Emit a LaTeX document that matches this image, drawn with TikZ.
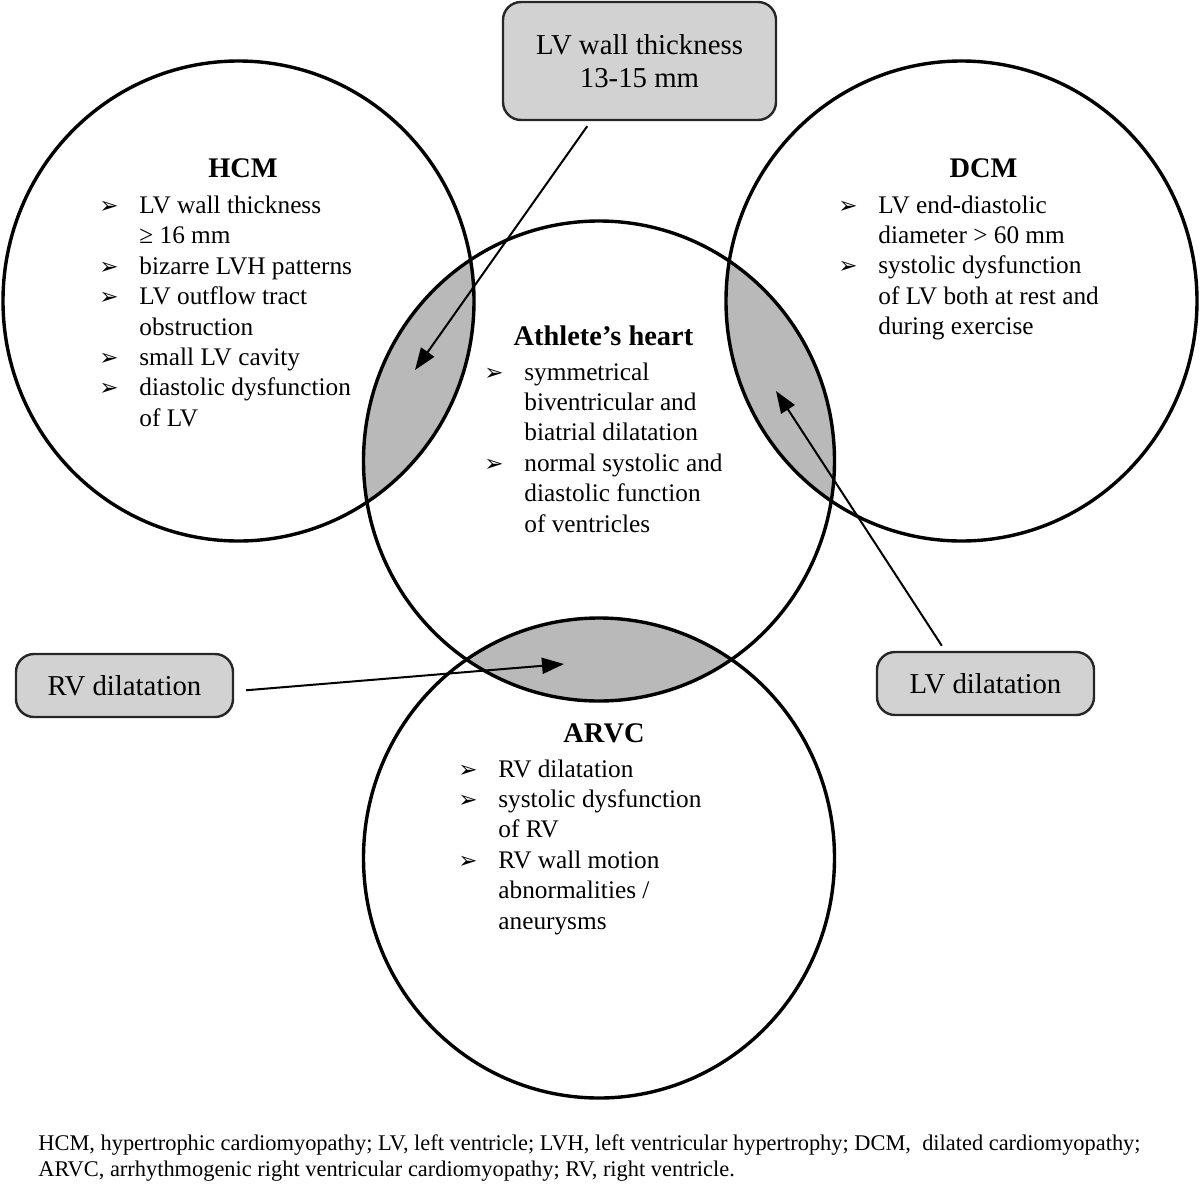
\documentclass[tikz,border=0pt]{standalone}
\usepackage{fontspec}
\setmainfont{Liberation Serif}
\newfontfamily\dingfont{DejaVu Sans}
\usetikzlibrary{arrows.meta,shapes.geometric}

\newcommand{\itm}{\makebox[20pt][l]{\dingfont\fontsize{11.5}{12}\selectfont ➢}}

\begin{document}
\begin{tikzpicture}[
  x=0.5pt, y=-0.5pt,
  oval/.style={x radius=117.75pt, y radius=120pt},
  ring/.style={draw, line width=1.7pt, ellipse, minimum width=235.5pt, minimum height=240pt, inner sep=0pt},
  lens/.style={fill=gray!55},
  tagbox/.style={draw=black!85, line width=1.2pt, fill=gray!35, rounded corners=9pt, align=center,
    inner sep=0pt, font=\fontsize{14.4}{16.5}\selectfont},
  heading/.style={anchor=base, font=\fontsize{14.2}{17}\selectfont\bfseries},
  facts/.style={anchor=base west, inner sep=0pt, font=\fontsize{12.65}{15.2}\selectfont},
  legend/.style={anchor=base west, inner sep=0pt, font=\fontsize{11.2}{13}\selectfont},
  pointer/.style={line width=1pt, -{Triangle[length=11pt,width=8pt]}}
]
  \useasboundingbox (0,0) rectangle (1200,1184);

  \coordinate (hcmC) at (238.5,301);
  \coordinate (dcmC) at (961.5,301);
  \coordinate (athC) at (599,461);
  \coordinate (arvcC) at (599,858);

  % shared areas
  \begin{scope}
    \clip (athC) ellipse [oval];
    \fill[lens] (hcmC) ellipse [oval];
    \fill[lens] (dcmC) ellipse [oval];
    \fill[lens] (arvcC) ellipse [oval];
  \end{scope}

  \node[ring] (hcm) at (hcmC) {};
  \node[ring] (dcm) at (dcmC) {};
  \node[ring] (ath) at (athC) {};
  \node[ring] (arvc) at (arvcC) {};

  \node[heading] (hcmT) at (243,177) {HCM};
  \node[facts] (hcmL) at (99,213.5) {\begin{tabular}[t]{@{}l@{}l@{}}
    \itm & LV wall thickness\\
         & ≥ 16 mm\\
    \itm & bizarre LVH patterns\\
    \itm & LV outflow tract\\
         & obstruction\\
    \itm & small LV cavity\\
    \itm & diastolic dysfunction\\
         & of LV
  \end{tabular}};

  \node[heading] (dcmT) at (983.5,177) {DCM};
  \node[facts] (dcmL) at (838,213) {\begin{tabular}[t]{@{}l@{}l@{}}
    \itm & LV end-diastolic\\
         & diameter > 60 mm\\
    \itm & systolic dysfunction\\
         & of LV both at rest and\\
         & during exercise
  \end{tabular}};

  \node[heading] (athT) at (603.5,345) {Athlete’s heart};
  \node[facts] (athL) at (484,380) {\begin{tabular}[t]{@{}l@{}l@{}}
    \itm & symmetrical\\
         & biventricular and\\
         & biatrial dilatation\\
    \itm & normal systolic and\\
         & diastolic function\\
         & of ventricles
  \end{tabular}};

  \node[heading] (arvcT) at (604,742) {ARVC};
  \node[facts] (arvcL) at (458,777) {\begin{tabular}[t]{@{}l@{}l@{}}
    \itm & RV dilatation\\
    \itm & systolic dysfunction\\
         & of RV\\
    \itm & RV wall motion\\
         & abnormalities /\\
         & aneurysms
  \end{tabular}};

  \node[tagbox, minimum width=136.5pt, minimum height=59pt] (wall) at (639.5,61) {LV wall thickness\\13-15 mm};
  \node[tagbox, minimum width=108.5pt, minimum height=31.5pt] (rvbox) at (124.5,685.5) {RV dilatation};
  \node[tagbox, minimum width=108.5pt, minimum height=31.5pt] (lvbox) at (985.5,683.5) {LV dilatation};

  \coordinate (wallTip) at (415,370);
  \coordinate (lvTip) at (776,391);
  \coordinate (rvTip) at (564,664);
  \draw[pointer, shorten <=3pt] (wall.231) -- (wallTip);
  \draw[pointer, shorten <=3pt] (lvbox.141) -- (lvTip);
  \draw[pointer, shorten <=6pt] (rvbox.357) -- (rvTip);

  \node[legend] (note) at (38,1150) {\begin{tabular}[t]{@{}l@{}}
    HCM, hypertrophic cardiomyopathy; LV, left ventricle; LVH, left ventricular hypertrophy; DCM,\ \ dilated cardiomyopathy;\\
    ARVC, arrhythmogenic right ventricular cardiomyopathy; RV, right ventricle.
  \end{tabular}};
\end{tikzpicture}
\end{document}
